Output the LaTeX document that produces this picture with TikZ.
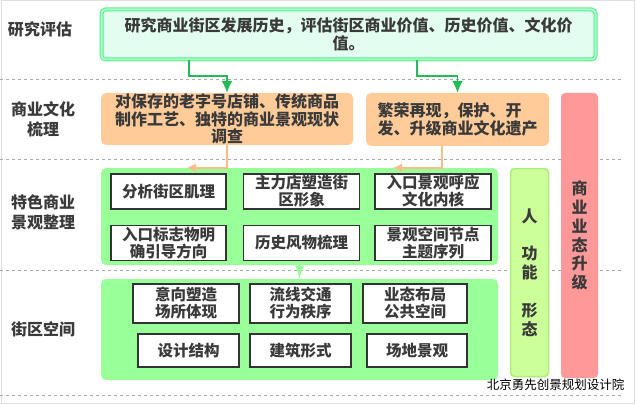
\documentclass[tikz,border=0pt]{standalone}
\usepackage{fontspec}
\newfontfamily\cjk{Noto Sans CJK SC}
\usepackage{tikz}
\usetikzlibrary{arrows.meta,positioning}

\definecolor{txtgray}{HTML}{3A3A3A}
\definecolor{mintfill}{HTML}{E3FEF0}
\definecolor{mintline}{HTML}{5CE98E}
\definecolor{mintband}{HTML}{A6FFC6}
\definecolor{arrowgreen}{HTML}{22BB55}
\definecolor{peach}{HTML}{FFCC99}
\definecolor{peachline}{HTML}{FFBB88}
\definecolor{panelgreen}{HTML}{99FF99}
\definecolor{barlime}{HTML}{CCFF99}
\definecolor{barlimeline}{HTML}{AAEE77}
\definecolor{barpink}{HTML}{FF9999}
\definecolor{sepgray}{HTML}{AAAAAA}

\begin{document}
\begin{tikzpicture}[
    x=1pt, y=-1pt,
    rowtitle/.style={align=center, text=txtgray, font=\cjk\bfseries\fontsize{16}{20}\selectfont},
    topbox/.style={rectangle, draw=mintline, line width=1pt, double=mintband, double distance=2pt, fill=mintfill, rounded corners=4pt, inner sep=0pt, align=center, text=txtgray, font=\cjk\bfseries\fontsize{16}{18}\selectfont},
    culture/.style={rectangle, fill=peach, rounded corners=5pt, inner sep=0pt, text=txtgray, font=\cjk\bfseries\fontsize{16}{17.5}\selectfont},
    panel/.style={rectangle, fill=panelgreen, rounded corners=5pt, inner sep=0pt},
    item/.style={rectangle, draw=black!80, line width=1.5pt, fill=white, inner sep=0pt, align=center, text=txtgray, font=\cjk\bfseries\fontsize{15.5}{17}\selectfont},
    bar/.style={rectangle, rounded corners=4pt, inner sep=0pt, align=center, text=txtgray, font=\cjk\bfseries\fontsize{16}{18.8}\selectfont},
    sep/.style={draw=sepgray, dashed, line width=0.8pt},
    greenline/.style={draw=arrowgreen, line width=1.5pt, -{Latex[length=12pt,width=11pt]}},
    peachlinestyle/.style={draw=peachline, line width=1.5pt, -{Latex[length=9pt,width=9pt]}}
]
    \useasboundingbox (0,0) rectangle (636,406);
    \draw[black!12, line width=1pt] (1,1) rectangle (634,403);

    % Separators
    \foreach \yy in {79,159,270,395}
        \path[sep] (0,\yy) -- (622,\yy);

    % Row titles
    \node[rowtitle] (r1) at (40,29) {研究评估};
    \node[rowtitle] (r2) at (43,119) {商业文化\\梳理};
    \node[rowtitle] (r3) at (43,212) {特色商业\\景观整理};
    \node[rowtitle] (r4) at (43,329) {街区空间};

    % Research
    \node[topbox, minimum width=494pt, minimum height=50pt] (research) at (348.5,34.5)
        {研究商业街区发展历史，评估街区商业价值、历史价值、文化价\\值。};

    % Culture
    \node[culture, align=center, minimum width=252pt, minimum height=52pt] (survey) at (227,119)
        {对保存的老字号店铺、传统商品\\制作工艺、独特的商业景观现状\\调查};
    \node[culture, align=left, minimum width=183pt, minimum height=53pt] (heritage) at (457.5,119.5)
        {繁荣再现，保护、开\\发、升级商业文化遗产};

    % Side bars
    \node[bar, fill=barpink, minimum width=37pt, minimum height=285pt] (upgrade) at (579.5,235.5)
        {商\\业\\业\\态\\升\\级};
    \node[bar, fill=barlime, draw=barlimeline, line width=1.5pt, minimum width=38pt, minimum height=208pt] (form) at (529.5,272.5)
        {人\\[18.7pt]功\\能\\[18.7pt]形\\态};

    % Landscape panel
    \node[panel, minimum width=397pt, minimum height=97pt] (scape) at (299.5,216.5) {};
    \node[item, minimum width=115pt, minimum height=35pt] (texture) at (168.5,191.5) {分析街区肌理};
    \node[item, minimum width=116pt, minimum height=35pt, right=16pt of texture] (anchor) {主力店塑造街\\区形象};
    \node[item, minimum width=116pt, minimum height=35pt, right=14pt of anchor] (entry) {入口景观呼应\\文化内核};
    \node[item, minimum width=115pt, minimum height=35pt, below=15pt of texture] (sign) {入口标志物明\\确引导方向};
    \node[item, minimum width=116pt, minimum height=35pt, below=15pt of anchor] (history) {历史风物梳理};
    \node[item, minimum width=116pt, minimum height=35pt, below=15pt of entry] (nodes) {景观空间节点\\主题序列};

    % Block panel
    \node[panel, minimum width=397pt, minimum height=101pt] (block) at (299.5,329.5) {};
    \node[item, minimum width=106pt, minimum height=39pt] (place) at (186,303.5) {意向塑造\\场所体现};
    \node[item, minimum width=101pt, minimum height=39pt] (flow) at (300.5,303.5) {流线交通\\行为秩序};
    \node[item, minimum width=104pt, minimum height=39pt] (layout) at (415,303.5) {业态布局\\公共空间};
    \node[item, minimum width=101pt, minimum height=33pt] (design) at (188.5,350.5) {设计结构};
    \node[item, minimum width=101pt, minimum height=33pt] (building) at (300.5,350.5) {建筑形式};
    \node[item, minimum width=100pt, minimum height=33pt] (site) at (417,350.5) {场地景观};

    % Credit
    \node[font=\cjk\fontsize{12.5}{14}\selectfont, anchor=east] (credit) at (628,385) {北京勇先创景规划设计院};

    % Flows
    \path[greenline] ([xshift=-159.5pt]research.south) -- ++(0,16) -| (survey.north);
    \path[greenline] ([xshift=68.5pt]research.south) -- ++(0,16) -| (heritage.north);
    \path[peachlinestyle] (survey.south) -- (survey.south |- scape.north) -- ++(-40,0);
    \path[peachlinestyle] ([xshift=-15.5pt]heritage.south) -- ([xshift=-15.5pt]heritage.south |- scape.north) -- ++(-49,0);
    \path[draw=panelgreen, line width=1pt, -{Latex[length=13pt,width=9pt]}] (scape.south) -- (block.north);
\end{tikzpicture}
\end{document}
